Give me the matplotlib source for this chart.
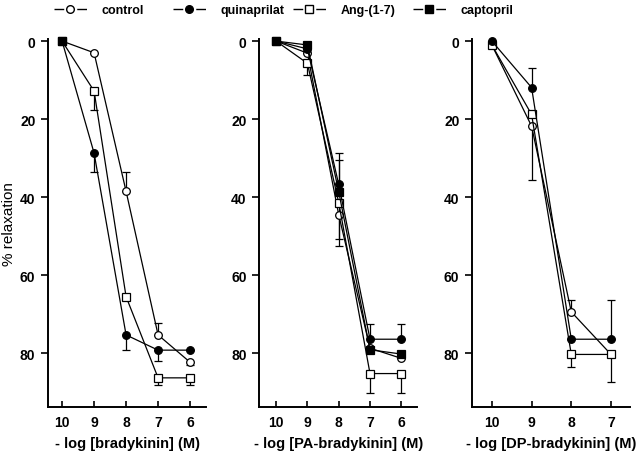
import numpy as np
import matplotlib
matplotlib.use("Agg")
import matplotlib.pyplot as plt
from matplotlib.lines import Line2D
from matplotlib.legend_handler import HandlerTuple

plt.rcParams['font.family'] = ['Liberation Sans', 'DejaVu Sans']

# panel 1: bradykinin
x1 = [10, 9, 8, 7, 6]
bk_control = [0, 3, 38.5, 75.3, 82.3]
bk_control_up = [0, 0, 5, 3, 0]
bk_control_dn = [0, 0, 0, 0, 0.8]
bk_quin = [0, 28.7, 75.3, 79.2, 79.2]
bk_quin_up = [0, 0, 0, 0, 0]
bk_quin_dn = [0, 4.8, 3.8, 2.8, 0]
bk_ang = [0, 12.8, 65.5, 86.3, 86.3]
bk_ang_up = [0, 0, 0, 0, 0]
bk_ang_dn = [0, 4.9, 0, 1.9, 1.9]
x1_capt = [10]
bk_capt = [0]

# panel 2: PA-bradykinin
x2 = [10, 9, 8, 7, 6]
pa_control = [0, 3.1, 44.5, 78.7, 81.3]
pa_control_up = [0, 0, 0, 0, 0]
pa_control_dn = [0, 0, 8, 0, 0]
pa_quin = [0, 2, 36.7, 76.4, 76.4]
pa_quin_up = [0, 0, 8, 4, 4]
pa_quin_dn = [0, 0, 0, 0, 0]
pa_ang = [0, 5.7, 41.4, 85.2, 85.2]
pa_ang_up = [0, 0, 0, 0, 0]
pa_ang_dn = [0, 3, 9.2, 5.1, 5.1]
pa_capt = [0, 1, 38.6, 79.1, 80.2]
pa_capt_up = [0, 0, 8, 0, 0]
pa_capt_dn = [0, 0, 0, 0, 0]

# panel 3: DP-bradykinin
x3 = [10, 9, 8, 7]
dp_control = [1, 21.8, 69.4, 80.3]
dp_control_up = [0, 0, 3, 0]
dp_control_dn = [0, 13.8, 0, 0]
dp_quin = [0, 11.9, 76.4, 76.4]
dp_quin_up = [0, 4.9, 0, 10]
dp_quin_dn = [0, 0, 0, 0]
dp_ang = [1, 18.8, 80.3, 80.3]
dp_ang_up = [0, 0, 0, 0]
dp_ang_dn = [0, 0, 3.1, 7]

yticks = [0, 20, 40, 60, 80]

styles = {
    'control': dict(marker='o', mfc='white', ms=5.5),
    'quinaprilat': dict(marker='o', mfc='black', ms=5.5),
    'Ang-(1-7)': dict(marker='s', mfc='white', ms=6),
    'captopril': dict(marker='s', mfc='black', ms=6),
}


def draw(ax, x, y, up, dn, name):
    st = styles[name]
    up = np.array(up)
    dn = np.array(dn)
    if up.sum() + dn.sum() > 0:
        ax.errorbar(x, y, yerr=[up, dn], fmt='none', ecolor='black',
                    elinewidth=0.9, capsize=3, capthick=0.9, clip_on=False)
    ax.plot(x, y, color='black', lw=0.9, marker=st['marker'], mfc=st['mfc'],
            mec='black', mew=0.9, ms=st['ms'], clip_on=False, zorder=3)


fig = plt.figure(figsize=(6.4, 4.56), dpi=100)

panels = [
    (0.075, (10.44, 5.5), [10, 9, 8, 7, 6], '- log [bradykinin] (M)'),
    (0.405, (10.54, 5.49), [10, 9, 8, 7, 6], '- log [PA-bradykinin] (M)'),
    (0.7375, (10.5, 6.52), [10, 9, 8, 7], '- log [DP-bradykinin] (M)'),
]
axes = []
for left, xl, xt, lab in panels:
    ax = fig.add_axes([left, 0.105, 0.247, 0.807])
    ax.set_xlim(*xl)
    ax.set_ylim(93.8, -0.5)
    ax.set_xticks(xt)
    ax.set_yticks(yticks)
    for s in ['top', 'right']:
        ax.spines[s].set_visible(False)
    for s in ['left', 'bottom']:
        ax.spines[s].set_linewidth(1.4)
    ax.tick_params(axis='x', direction='in', length=4, width=1.2, pad=6, labelsize=10)
    ax.tick_params(axis='y', direction='out', length=5, width=1.2, pad=4, labelsize=10)
    for t in ax.get_xticklabels() + ax.get_yticklabels():
        t.set_fontweight('bold')
    ax.set_xlabel(lab, fontsize=10.5, fontweight='bold', labelpad=5)
    axes.append(ax)

ax1, ax2, ax3 = axes

draw(ax1, x1, bk_control, bk_control_up, bk_control_dn, 'control')
draw(ax1, x1, bk_quin, bk_quin_up, bk_quin_dn, 'quinaprilat')
draw(ax1, x1, bk_ang, bk_ang_up, bk_ang_dn, 'Ang-(1-7)')
draw(ax1, x1_capt, bk_capt, [0], [0], 'captopril')

draw(ax2, x2, pa_control, pa_control_up, pa_control_dn, 'control')
draw(ax2, x2, pa_ang, pa_ang_up, pa_ang_dn, 'Ang-(1-7)')
draw(ax2, x2, pa_quin, pa_quin_up, pa_quin_dn, 'quinaprilat')
draw(ax2, x2, pa_capt, pa_capt_up, pa_capt_dn, 'captopril')

draw(ax3, x3, dp_control, dp_control_up, dp_control_dn, 'control')
draw(ax3, x3, dp_ang, dp_ang_up, dp_ang_dn, 'Ang-(1-7)')
draw(ax3, x3, dp_quin, dp_quin_up, dp_quin_dn, 'quinaprilat')

ax1.set_ylabel('% relaxation', fontsize=11)
ax1.yaxis.set_label_coords(-0.205, 0.5)

# legend across the top, one entry each
leg_x = [54, 173, 293, 413]
for (name, st), lx in zip(styles.items(), leg_x):
    seg = Line2D([], [], color='black', lw=1, linestyle=(0, (7, 9.4, 7)))
    mk = Line2D([], [], color='black', lw=0, marker=st['marker'], mfc=st['mfc'],
                mec='black', ms=st['ms'])
    fig.legend([(seg, mk)], [name], handler_map={tuple: HandlerTuple(ndivide=1)},
               loc='center left', bbox_to_anchor=(lx / 640, 1 - 11 / 456),
               frameon=False, borderpad=0, borderaxespad=0, handlelength=2.6,
               handletextpad=1.2, prop=dict(size=9, weight='bold'))

fig.savefig('out.png', dpi=100)
